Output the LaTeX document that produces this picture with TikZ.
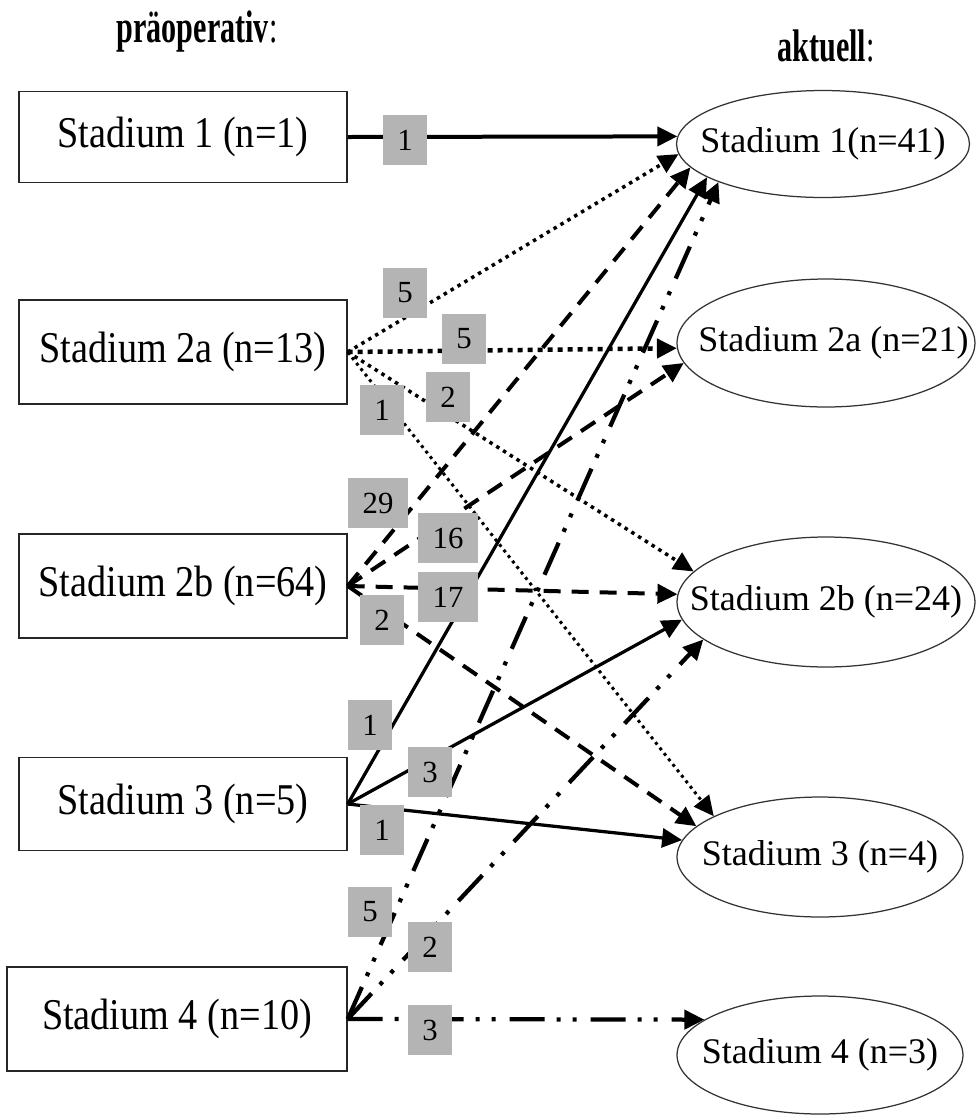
\documentclass[tikz,border=0pt]{standalone}
\usepackage{fontspec}
\setmainfont{Liberation Serif}
\newfontfamily\boxfont[FakeStretch=0.87]{Liberation Serif}
\newfontfamily\headfont[FakeStretch=0.66]{Liberation Serif}
\usetikzlibrary{arrows.meta,shapes.geometric}
\definecolor{lblgray}{RGB}{180,180,180}

\begin{document}
\begin{tikzpicture}[x=0.02cm,y=-0.02cm,
  pre/.style={draw=black!85, line width=0.03cm, minimum width=6.56cm,
    minimum height=2.08cm, inner sep=0pt,
    font=\boxfont\fontsize{25}{30}\selectfont},
  post/.style={ellipse, draw=black!80, line width=0.025cm, inner sep=0pt,
    minimum width=5.9cm, font=\fontsize{20.5}{24}\selectfont},
  cnt/.style={fill=lblgray, minimum width=0.88cm, minimum height=1cm,
    inner sep=0pt, font=\fontsize{17.5}{20}\selectfont},
  head/.style={font=\headfont\fontsize{26}{30}\selectfont},
  tip/.style={-{Triangle[length=0.4cm,width=0.38cm]}},
  solidln/.style={tip, line width=0.08cm},
  solidthin/.style={tip, line width=0.065cm},
  dotln/.style={tip, line width=0.07cm, dash pattern=on 0.07cm off 0.09cm},
  dotwide/.style={tip, line width=0.09cm, dash pattern=on 0.1cm off 0.1cm},
  dotfine/.style={tip, line width=0.06cm, dash pattern=on 0.06cm off 0.08cm},
  dashln/.style={tip, line width=0.08cm, dash pattern=on 0.34cm off 0.22cm},
  dddln/.style={tip, line width=0.085cm,
    dash pattern=on 0.7cm off 0.24cm on 0.08cm off 0.24cm on 0.08cm off 0.28cm},
]
\useasboundingbox (0,0) rectangle (975,1117);

% column headings
\node[head] (hpre) at (197,32) {\textbf{präoperativ}:};
\node[head] (hakt) at (826,46) {\textbf{aktuell}:};

% preoperative stages
\node[pre, minimum height=1.82cm] (b1) at (183,137) {Stadium 1 (n=1)};
\node[pre] (b2a) at (183,352) {Stadium 2a (n=13)};
\node[pre] (b2b) at (183,586) {Stadium 2b (n=64)};
\node[pre, minimum height=1.86cm] (b3) at (183,804) {Stadium 3 (n=5)};
\node[pre, minimum width=6.8cm] (b4) at (177,1019)
  {\raisebox{-0.2cm}{Stadium 4 (n=10)}};

% current stages
\node[post, minimum width=5.86cm, minimum height=2.14cm] (e1) at (823,144)
  {\makebox[0pt]{Stadium 1(n=41)}};
\node[post, minimum width=5.96cm, minimum height=2.56cm] (e2a) at (826,343)
  {\makebox[0pt]{\hspace{0.3cm}Stadium 2a (n=21)}};
\node[post, minimum width=5.96cm, minimum height=2.6cm] (e2b) at (826,602)
  {\makebox[0pt]{Stadium 2b (n=24)}};
\node[post, minimum width=5.72cm, minimum height=2.4cm] (e3) at (820,857)
  {\makebox[0pt]{Stadium 3 (n=4)}};
\node[post, minimum width=5.72cm, minimum height=2.36cm] (e4) at (820,1055)
  {\makebox[0pt]{Stadium 4 (n=3)}};

% transitions from stage 1
\draw[solidln] (b1.east) -- (e1.177);
% transitions from stage 2a
\draw[dotln]   (b2a.east) -- (e1.184);
\draw[dotwide] (b2a.east) -- (e2a.182);
\draw[dotln]   (b2a.east) -- (e2b.167);
\draw[dotfine] (b2a.east) -- (e3.159);
% transitions from stage 2b
\draw[dashln] (b2b.east) -- (e1.190);
\draw[dashln] (b2b.east) -- (e2a.188);
\draw[dashln] (b2b.east) -- (e2b.177);
\draw[dashln] (b2b.east) -- (e3.166);
% transitions from stage 3
\draw[solidthin] (b3.east) -- (e1.196);
\draw[solidthin] (b3.east) -- (e2b.187);
\draw[solidthin] (b3.east) -- (e3.173);
% transitions from stage 4
\draw[dddln] (b4.east) -- (e1.200);
\draw[dddln] (b4.east) -- (e2b.197);
\draw[dddln] (b4.east) -- (e4.163);

% patient counts
\node[cnt] (n1) at (405,140) {1};
\node[cnt] (n2) at (405,293) {5};
\node[cnt] (n3) at (464,339) {5};
\node[cnt] (n4) at (448,397) {2};
\node[cnt] (n5) at (382,410) {1};
\node[cnt, minimum width=1.2cm] (n6) at (378,503) {29};
\node[cnt, minimum width=1.2cm] (n7) at (448,538) {16};
\node[cnt, minimum width=1.2cm] (n8) at (448,597) {17};
\node[cnt] (n9) at (382,620) {2};
\node[cnt] (n10) at (370,725) {1};
\node[cnt] (n11) at (430,772) {3};
\node[cnt] (n12) at (382,830) {1};
\node[cnt] (n13) at (370,912) {5};
\node[cnt] (n14) at (430,947) {2};
\node[cnt] (n15) at (430,1030) {3};
\end{tikzpicture}
\end{document}
